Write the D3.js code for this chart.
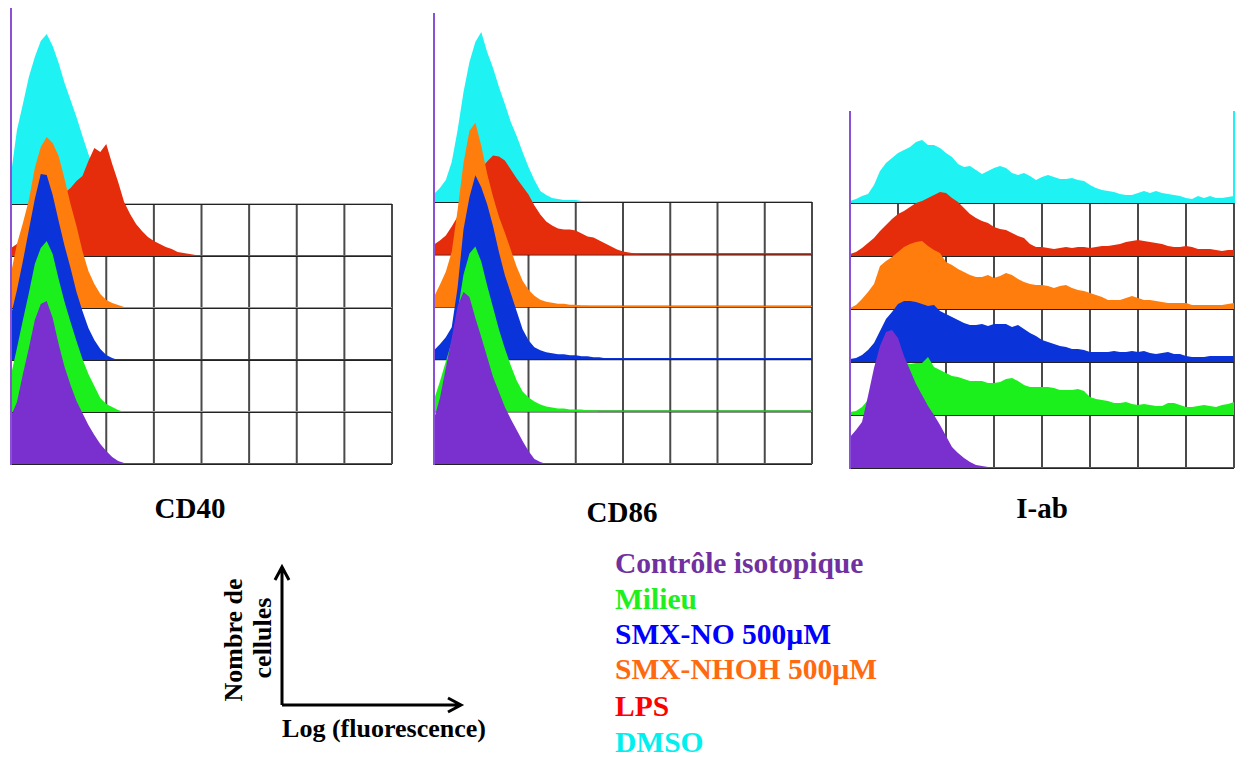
<!DOCTYPE html>
<html>
<head>
<meta charset="utf-8">
<script src="https://cdn.jsdelivr.net/npm/d3@7"></script>
<style>
  body { margin: 0; background: #fff; }
  svg { display: block; }
  text { font-family: "Liberation Serif", "Times New Roman", serif; font-weight: bold; }
</style>
</head>
<body>
<div id="chart"></div>
<script>
// Series, from the bottom row (isotype control) to the top row (DMSO)
const seriesNames = ["Contrôle isotopique", "Milieu", "SMX-NO 500µM", "SMX-NHOH 500µM", "LPS", "DMSO"];
const markers = ["CD40", "CD86", "I-ab"];

// histogram counts, one value per 1/8 of a grid division
const binStep = 0.125;

const cd40Iso = [48, 62, 90, 116, 144, 160, 163, 146, 120, 97, 79, 63, 51, 39, 29, 20, 13, 7, 3, 1, 0];
const cd40Milieu = [37, 64, 92, 119, 148, 164, 171, 158, 133, 110, 90, 71, 53, 38, 26, 14, 8, 5, 2, 0];
const cd40No = [45, 70, 99, 130, 161, 186, 185, 165, 139, 114, 92, 68, 49, 32, 20, 11, 5, 2, 0];
const cd40Nhoh = [35, 64, 85, 108, 140, 161, 171, 165, 152, 129, 104, 82, 57, 37, 24, 14, 8, 5, 3, 1, 0];
const cd40Lps = [8, 12, 18, 25, 32, 40, 48, 55, 60, 63, 68, 75, 80, 95, 108, 104, 112, 92, 74, 54, 42, 32, 25, 19, 15, 12, 9, 7, 4, 3, 2, 1, 0];
const cd40Dmso = [30, 74, 100, 127, 147, 163, 170, 158, 141, 121, 104, 87, 68, 50, 34, 20, 9, 3, 0];

const cd86Iso = [45, 66, 96, 126, 158, 172, 167, 146, 127, 107, 87, 72, 57, 45, 34, 23, 13, 5, 2, 0];
const cd86Milieu = [12, 30, 50, 70, 100, 137, 158, 165, 150, 126, 104, 82, 63, 46, 31, 20, 14, 10, 7, 5, 4, 3, 3, 2, 2, 2, 1, 1, 0];
const cd86No = [9, 15, 22, 32, 72, 130, 162, 184, 172, 155, 133, 107, 84, 66, 48, 30, 19, 12, 9, 7, 6, 5, 5, 4, 4, 3, 3, 2, 2, 1, 1, 1, 1, 0];
const cd86Nhoh = [10, 22, 35, 55, 97, 144, 176, 184, 161, 133, 110, 90, 74, 57, 40, 26, 17, 11, 7, 5, 4, 3, 3, 2, 2, 1, 1, 0];
const cd86Lps = [10, 14, 19, 28, 38, 50, 62, 75, 86, 93, 99, 98, 94, 85, 76, 68, 60, 49, 40, 33, 29, 26, 25, 25, 24, 21, 18, 17, 14, 11, 8, 5, 3, 2, 1, 0];
const cd86Dmso = [8, 14, 22, 40, 72, 110, 140, 160, 170, 150, 134, 115, 98, 80, 66, 50, 35, 22, 11, 7, 4, 3, 2, 2, 2, 1, 1, 1, 0];

const iabIso = [31, 38, 46, 72, 100, 122, 136, 138, 130, 112, 98, 84, 73, 62, 53, 43, 32, 21, 15, 10, 6, 3, 2, 1, 0];
const iabMilieu = [3, 4, 8, 15, 25, 35, 42, 48, 52, 53, 51, 52, 52, 58, 48, 45, 42, 39, 38, 36, 34, 34, 34, 32, 32, 33, 36, 37, 34, 30, 28, 28, 28, 28, 27, 25, 25, 25, 26, 24, 18, 16, 15, 14, 12, 12, 13, 11, 10, 11, 10, 9, 9, 12, 12, 10, 8, 8, 9, 10, 9, 8, 10, 11, 13];
const iabNo = [3, 4, 7, 12, 19, 31, 43, 50, 58, 61, 61, 60, 58, 56, 57, 51, 48, 45, 42, 39, 37, 37, 38, 36, 38, 38, 38, 35, 37, 33, 29, 26, 22, 20, 18, 16, 15, 13, 13, 12, 10, 10, 10, 10, 11, 10, 10, 11, 10, 11, 9, 8, 9, 10, 8, 8, 6, 5, 5, 5, 6, 6, 6, 6, 6];
const iabNhoh = [1, 4, 10, 17, 25, 43, 48, 52, 57, 62, 65, 67, 68, 63, 59, 56, 47, 44, 40, 37, 34, 32, 32, 34, 31, 33, 36, 34, 30, 27, 25, 24, 24, 23, 21, 23, 24, 21, 19, 18, 16, 14, 12, 9, 9, 9, 11, 13, 11, 9, 9, 8, 7, 6, 6, 6, 6, 4, 4, 4, 4, 4, 4, 5, 6];
const iabLps = [2, 4, 8, 13, 18, 25, 31, 37, 42, 45, 49, 53, 55, 58, 61, 64, 63, 58, 54, 48, 42, 38, 35, 33, 29, 27, 26, 23, 20, 18, 12, 9, 9, 8, 7, 8, 9, 8, 9, 9, 8, 9, 10, 10, 11, 12, 14, 15, 16, 15, 14, 13, 12, 10, 9, 9, 10, 9, 7, 7, 7, 6, 5, 6, 6];
const iabDmso = [2, 4, 7, 9, 18, 32, 40, 45, 50, 53, 56, 61, 63, 58, 58, 55, 50, 46, 39, 36, 37, 33, 29, 32, 35, 37, 35, 30, 28, 30, 27, 23, 26, 28, 26, 24, 24, 25, 23, 22, 18, 15, 13, 12, 11, 9, 8, 8, 10, 12, 10, 12, 10, 9, 8, 7, 5, 4, 7, 5, 7, 5, 5, 6, 7];

const panelSeries = [
  [cd40Iso, cd40Milieu, cd40No, cd40Nhoh, cd40Lps, cd40Dmso],
  [cd86Iso, cd86Milieu, cd86No, cd86Nhoh, cd86Lps, cd86Dmso],
  [iabIso, iabMilieu, iabNo, iabNhoh, iabLps, iabDmso]
];

const histColors = ["#7a2fcf", "#1cf01c", "#0a33d9", "#ff7d0d", "#e52c0b", "#1ff2f2"];
const legendColors = ["#7030a0", "#1ef01e", "#0000ff", "#ff6a10", "#ff0000", "#00f0f0"];

const width = 1236;
const height = 758;

const panels = [
  { x0: 11, x1: 392, top: 8, bottom: 464, gap: 52, title: [190, 518] },
  { x0: 434, x1: 812, top: 13, bottom: 464, gap: 52.4, title: [622, 522] },
  { x0: 850, x1: 1234, top: 111, bottom: 468, gap: 53, title: [1042, 518], edge: true }
];

const svg = d3.select("#chart").append("svg").attr("width", width).attr("height", height);
svg.append("rect").attr("width", width).attr("height", height).attr("fill", "#fff");

panels.forEach((p, pi) => {
  const x = d3.scaleLinear().domain([0, 8]).range([p.x0, p.x1]);
  const baselines = d3.range(6).map((i) => p.bottom - i * p.gap);
  const g = svg.append("g");

  // grid behind the histograms
  g.selectAll(".vgrid")
    .data(d3.range(1, 9))
    .join("line")
    .attr("x1", (d) => x(d))
    .attr("x2", (d) => x(d))
    .attr("y1", baselines[5])
    .attr("y2", p.bottom)
    .attr("stroke", "#4a4a4a")
    .attr("stroke-width", 2);

  g.selectAll(".hgrid")
    .data(baselines)
    .join("line")
    .attr("x1", p.x0)
    .attr("x2", p.x1)
    .attr("y1", (d) => d)
    .attr("y2", (d) => d)
    .attr("stroke", "#222")
    .attr("stroke-width", 2);

  if (p.edge) {
    g.append("line")
      .attr("x1", p.x1).attr("x2", p.x1)
      .attr("y1", p.top).attr("y2", baselines[5])
      .attr("stroke", histColors[5]).attr("stroke-width", 2);
  }

  // top row first, so lower rows sit on top
  for (let i = 5; i >= 0; i--) {
    const base = baselines[i];
    const y = d3.scaleLinear().domain([0, 200]).range([base, base - 200]);
    const area = d3.area()
      .x((d, k) => x(k * binStep))
      .y0(base)
      .y1((d) => y(d));

    g.append("path")
      .datum(panelSeries[pi][i])
      .attr("d", area)
      .attr("fill", histColors[i]);

    g.append("line")
      .attr("x1", p.x0)
      .attr("x2", p.x1)
      .attr("y1", base - 0.5)
      .attr("y2", base - 0.5)
      .attr("stroke", histColors[i])
      .attr("stroke-width", 1.2);
  }

  // vertical count axis
  g.append("line")
    .attr("x1", p.x0).attr("x2", p.x0)
    .attr("y1", p.top).attr("y2", p.bottom + 1)
    .attr("stroke", "#8a50d6")
    .attr("stroke-width", 2);

  svg.append("text")
    .attr("x", p.title[0])
    .attr("y", p.title[1])
    .attr("text-anchor", "middle")
    .attr("font-size", 29)
    .attr("fill", "#000")
    .text(markers[pi]);
});

// axis sketch
const sketch = svg.append("g").attr("stroke", "#000").attr("stroke-width", 3).attr("fill", "none");
sketch.append("path").attr("d", "M282,705 V567 M275,580 L282,567 L289,580");
sketch.append("path").attr("d", "M282,705 H461 M448,698 L461,705 L448,712");

svg.append("text")
  .attr("transform", "translate(242,640) rotate(-90)")
  .attr("text-anchor", "middle")
  .attr("font-size", 26)
  .text("Nombre de");
svg.append("text")
  .attr("transform", "translate(271,638) rotate(-90)")
  .attr("text-anchor", "middle")
  .attr("font-size", 26)
  .text("cellules");
svg.append("text")
  .attr("x", 384)
  .attr("y", 737)
  .attr("text-anchor", "middle")
  .attr("font-size", 26)
  .text("Log (fluorescence)");

// legend
const legendY = [573, 609, 644, 679, 716, 752];
svg.selectAll(".legend")
  .data(seriesNames)
  .join("text")
  .attr("class", "legend")
  .attr("x", 615)
  .attr("y", (d, i) => legendY[i])
  .attr("font-size", 29.5)
  .attr("fill", (d, i) => legendColors[i])
  .text((d) => d);
</script>
</body>
</html>
